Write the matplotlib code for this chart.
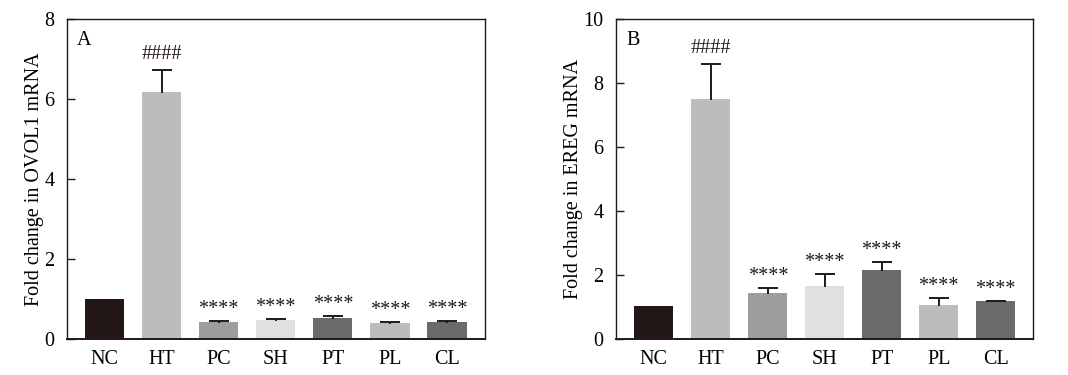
import matplotlib
matplotlib.use("Agg")
import matplotlib.pyplot as plt
import numpy as np

groups = ["NC", "HT", "PC", "SH", "PT", "PL", "CL"]
colors = ["#231815", "#bbbcbc", "#9c9d9d", "#e0e0e0", "#6a6a6a", "#bbbcbc", "#6a6a6a"]

ovol1_mean = [1.0, 6.17, 0.42, 0.47, 0.52, 0.40, 0.42]
ovol1_err = [0.0, 0.55, 0.04, 0.03, 0.06, 0.03, 0.03]
ovol1_marks = ["", "####", "****", "****", "****", "****", "****"]

ereg_mean = [1.03, 7.50, 1.44, 1.66, 2.16, 1.06, 1.19]
ereg_err = [0.0, 1.10, 0.17, 0.38, 0.24, 0.22, 0.01]
ereg_marks = ["", "####", "****", "****", "****", "****", "****"]

plt.rcParams["font.family"] = ["Liberation Serif", "DejaVu Serif"]

FS = 14.5
fig = plt.figure(figsize=(10.68, 3.75), dpi=100)
axA = fig.add_axes([0.0627, 0.096, 0.391, 0.853])
axB = fig.add_axes([0.577, 0.096, 0.3905, 0.853])


def panel(ax, means, errs, marks, ymax, yticks, ylabel, letter):
    x = np.arange(len(groups))
    m = np.asarray(means)
    e = np.asarray(errs)
    ax.bar(x, m, width=0.69, color=colors, edgecolor="none", zorder=2)
    has = e > 0
    tops = m + e
    ax.vlines(x[has], m[has] - 0.02 * ymax / 8, tops[has], color="#231815",
              linewidth=1.4, zorder=3)
    ax.hlines(tops[has], x[has] - 0.175, x[has] + 0.175, color="#231815",
              linewidth=1.4, zorder=3)
    for xi, mm, ee, t in zip(x, m, e, marks):
        if not t:
            continue
        off = 8 if t.startswith("#") else 5
        ax.annotate(t, (xi, mm + ee), xytext=(0, off), textcoords="offset points",
                    ha="center", va="baseline", fontsize=FS, color="#231815")
    ax.set_xlim(-0.66, 6.66)
    ax.set_ylim(0, ymax)
    ax.set_yticks(yticks)
    ax.set_xticks(x)
    ax.set_xticklabels(groups)
    ax.tick_params(axis="x", length=0, pad=8, labelsize=FS)
    ax.tick_params(axis="y", direction="in", length=5.5, width=1, labelsize=FS,
                   pad=9, color="#231815")
    for s in ax.spines.values():
        s.set_linewidth(1.0)
        s.set_color("#231815")
    ax.spines["bottom"].set_linewidth(1.4)
    ax.set_ylabel(ylabel, fontsize=FS, labelpad=0.5)
    ax.text(0.024, 0.963, letter, transform=ax.transAxes, ha="left", va="top",
            fontsize=FS)


panel(axA, ovol1_mean, ovol1_err, ovol1_marks, 8, [0, 2, 4, 6, 8],
      "Fold change in OVOL1 mRNA", "A")
panel(axB, ereg_mean, ereg_err, ereg_marks, 10, [0, 2, 4, 6, 8, 10],
      "Fold change in EREG mRNA", "B")

fig.savefig("out.png", dpi=100)
